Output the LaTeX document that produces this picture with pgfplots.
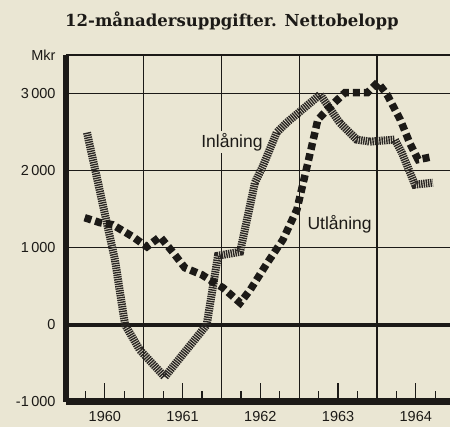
\documentclass[border=0pt]{standalone}
\usepackage{pgfplots}
\pgfplotsset{compat=1.18}
\usepackage{fontspec}
\setmainfont{Liberation Sans}
\newfontfamily\titlefont{DejaVu Serif}
\definecolor{paper}{HTML}{EAE6D3}
\definecolor{ink}{HTML}{1C1A17}
\definecolor{hatch}{HTML}{2A2724}

\begin{document}
\begin{tikzpicture}
\path[use as bounding box, fill=paper] (-66pt,-25pt) rectangle (384pt,402pt);
\begin{axis}[
  scale only axis, width=384pt, height=347pt,
  xmin=1960, xmax=1964.94, ymin=-1000, ymax=3500,
  axis lines*=left,
  x axis line style={line width=7pt, ink},
  y axis line style={line width=6pt, ink},
  xtick={1960.5,1961.5,1962.5,1963.5,1964.5},
  xticklabels={1960,1961,1962,1963,1964},
  minor xtick={1960.25,1960.75,1961.25,1961.75,1962.25,1962.75,1963.25,1963.75,1964.25,1964.75},
  tick align=inside, xtick pos=left,
  major tick length=19pt, minor tick length=11pt,
  xtick style={line width=1.2pt, ink},
  ytick style={draw=none},
  ytick={-1000,1000,2000,3000,3500},
  yticklabels={-1\,000,1\,000,2\,000,3\,000,Mkr},
  extra y ticks={0}, extra y tick labels={0},
  extra y tick style={ymajorgrids=true, major grid style={line width=3.5pt, ink}},
  extra x ticks={1961,1962,1963,1964}, extra x tick labels={},
  extra x tick style={xmajorgrids=true, major tick length=0pt},
  ymajorgrids=true,
  major grid style={line width=1.2pt, ink},
  yticklabel style={font=\fontsize{14.5}{14.5}\selectfont, text=ink, xshift=-7pt},
  xticklabel style={font=\fontsize{14.5}{14.5}\selectfont, text=ink, yshift=-7pt, inner sep=2pt},
]
\node[font=\fontsize{17.5}{17.5}\selectfont, text=ink, fill=paper, inner sep=2pt]
  at (axis cs:1962.135,2370) {Inlåning};
\node[font=\fontsize{17.5}{17.5}\selectfont, text=ink]
  at (axis cs:1963.52,1300) {Utlåning};
% Inlåning
\addplot[hatch, mark=none, line width=8pt, dash pattern=on 1.4pt off 0.9pt] coordinates {
(1960.27,2494) (1960.63,844) (1960.76,0) (1960.95,-325) (1961.27,-675)
(1961.81,0) (1961.955,896) (1962.24,948) (1962.43,1844) (1962.53,2052)
(1962.71,2494) (1962.84,2623) (1963.27,2987) (1963.52,2623) (1963.74,2403)
(1963.91,2377) (1964.23,2403) (1964.32,2234) (1964.49,1818) (1964.72,1844)
};
% Utlåning
\addplot[ink, mark=none, line width=7.5pt, dash pattern=on 7pt off 4pt] coordinates {
(1960.24,1390) (1960.44,1325) (1960.60,1299) (1960.86,1143) (1961.04,1013)
(1961.21,1143) (1961.38,935) (1961.53,740) (1961.75,649) (1961.89,558)
(1962.02,481) (1962.24,286) (1962.37,455) (1962.59,805) (1962.79,1104)
(1962.97,1494) (1963.07,1922) (1963.16,2312) (1963.24,2662) (1963.40,2831)
(1963.59,3013) (1963.88,3013) (1964.01,3143) (1964.13,2987) (1964.30,2662)
(1964.42,2364) (1964.53,2143) (1964.72,2182)
};
\end{axis}
\node[font=\titlefont\bfseries\fontsize{16.5}{16.5}\selectfont, text=ink] at (166pt,381pt)
  {12-månadersuppgifter. Nettobelopp};
\end{tikzpicture}
\end{document}
